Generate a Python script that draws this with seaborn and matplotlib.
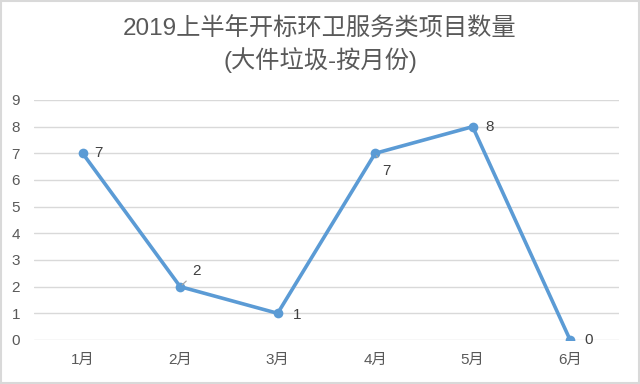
import numpy as np
import pandas as pd
import seaborn as sns
import matplotlib.pyplot as plt
from matplotlib.patches import Rectangle

# data
months = ['1月', '2月', '3月', '4月', '5月', '6月']
counts = [7, 2, 1, 7, 8, 0]
# label offsets in points (dx, dy) and whether a leader line is drawn
label_offsets = [(11, 0), (12, 11), (14, -1), (8, -13), (12, 0), (13, 0)]
leaders = [False, True, False, True, False, False]

title = '2019上半年开标环卫服务类项目数量\n(大件垃圾-按月份)'

sns.set_theme(style="white")
plt.rcParams['font.family'] = ['Liberation Sans', 'Noto Sans CJK SC', 'DejaVu Sans']

df = pd.DataFrame({'month': months, 'count': counts})

fig = plt.figure(figsize=(6.4, 3.84), dpi=100)
ax = fig.add_axes([0.053, 0.1146, 0.914, 0.625])

line_color = '#5B9BD5'
sns.lineplot(data=df, x='month', y='count', ax=ax, color=line_color,
             linewidth=2.6, marker='o', markersize=7, markeredgewidth=0,
             sort=False)

ax.set_xlim(-0.5, len(months) - 0.5)
ax.set_ylim(0, 9)
ax.set_yticks(range(0, 10))
ax.grid(axis='y', color='#D9D9D9', linewidth=1)
ax.set_axisbelow(True)
for s in ax.spines.values():
    s.set_visible(False)
ax.tick_params(axis='both', length=0, labelsize=11, labelcolor='#595959')
ax.tick_params(axis='x', pad=9)
ax.tick_params(axis='y', pad=10)
ax.set_xlabel('')
ax.set_ylabel('')

for i, (v, (dx, dy), lead) in enumerate(zip(counts, label_offsets, leaders)):
    kw = {}
    if lead:
        kw['arrowprops'] = dict(arrowstyle='-', color='#A6A6A6', lw=0.9,
                                shrinkA=3, shrinkB=2)
    ax.annotate(str(v), xy=(i, v), xytext=(dx, dy), textcoords='offset points',
                ha='center', va='center', fontsize=11, color='#404040', **kw)

fig.text(0.5, 0.883, title, ha='center', va='center', fontsize=17.5,
         color='#595959', linespacing=1.3)

fig.patches.append(Rectangle((0.002, 0.003), 0.996, 0.994, transform=fig.transFigure,
                             fill=False, edgecolor='#D9D9D9', linewidth=1.5))

fig.savefig('out.png', dpi=100, facecolor='white')
